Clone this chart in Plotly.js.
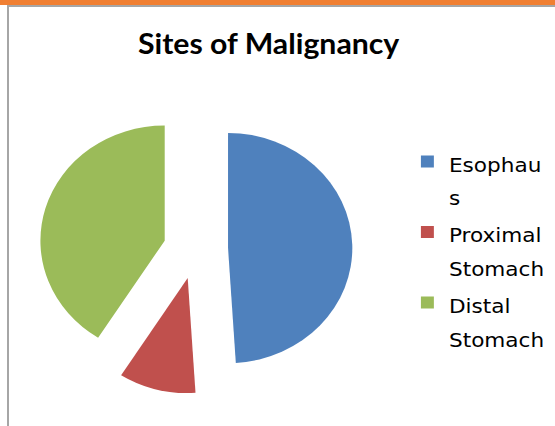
<!DOCTYPE html>
<html>
<head>
<meta charset="utf-8">
<script src="https://cdn.plot.ly/plotly-3.0.1.min.js"></script>
<style>
  html, body { margin: 0; padding: 0; background: #ffffff; overflow: hidden; }
  #wrap { position: absolute; left: 0; top: 0; width: 555px; height: 426px; background: #fff; }
  #chart { position: absolute; left: 0; top: 0; width: 514px; height: 426px;
           transform: scaleX(1.08); transform-origin: 0 0; }
  .bar-top { position: absolute; left: 0; top: 0; width: 555px; height: 5px; background: #F07F32; }
  .line-top { position: absolute; left: 7px; top: 5px; width: 548px; height: 2px; background: #a6a6a6; }
  .line-left { position: absolute; left: 7px; top: 5px; width: 2px; height: 421px; background: #a6a6a6; }
</style>
</head>
<body>
<div id="wrap">
  <div id="chart"></div>
  <div class="bar-top"></div>
  <div class="line-top"></div>
  <div class="line-left"></div>
</div>
<script>
// Data
const categories = ["Esophau<br>s", "Proximal<br>Stomach", "Distal<br>Stomach"];
const shares = [49, 10, 41];
const sliceColors = ["#4F81BD", "#C0504D", "#9BBB59"];
const chartTitle = "Sites of Malignancy";

// legend text drawn smaller than the legend's base size, so lines keep the wide spacing
const legendLabels = categories.map(function (c) {
  return c.split("<br>").map(function (p) {
    return '<span style="font-size:20px">' + p + '</span>';
  }).join("<br>");
});

const trace = {
  type: "pie",
  labels: legendLabels,
  values: shares,
  sort: false,
  direction: "clockwise",
  rotation: 0,
  pull: 0.26,
  textinfo: "none",
  hoverinfo: "label+percent",
  marker: { colors: sliceColors, line: { width: 0 } },
  domain: { x: [0.0705, 0.6347], y: [0.075, 0.756] }
};

const layout = {
  width: 514,
  height: 426,
  margin: { l: 0, r: 0, t: 0, b: 0 },
  paper_bgcolor: "rgba(0,0,0,0)",
  plot_bgcolor: "rgba(0,0,0,0)",
  title: {
    text: "<b>" + chartTitle + "</b>",
    x: 0.484, xanchor: "center",
    y: 0.896, yanchor: "middle",
    font: { family: "Lato, 'Open Sans', sans-serif", size: 28, color: "#000000" }
  },
  showlegend: true,
  legend: {
    x: 0.731, xanchor: "left",
    y: 1 - 138 / 426, yanchor: "top",
    valign: "top",
    font: { family: "'DejaVu Sans', sans-serif", size: 26, color: "#000000" },
    bgcolor: "rgba(0,0,0,0)"
  }
};

Plotly.newPlot("chart", [trace], layout, { displayModeBar: false, staticPlot: true });
</script>
</body>
</html>
